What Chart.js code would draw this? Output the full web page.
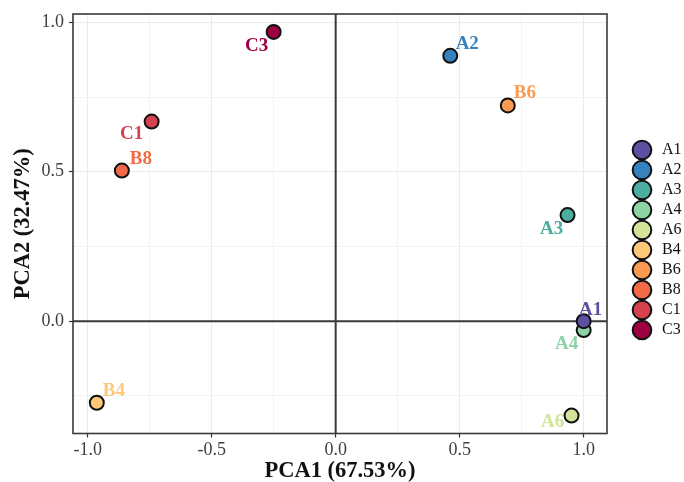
<!DOCTYPE html>
<html>
<head>
<meta charset="utf-8">
<script src="https://cdn.jsdelivr.net/npm/chart.js@4.4.1/dist/chart.umd.min.js"></script>
<style>
  html, body { margin: 0; padding: 0; background: #fff; }
  #wrap { width: 684px; height: 482px; }
</style>
</head>
<body>
<div id="wrap"><canvas id="pca"></canvas></div>
<script>
// Данные PCA
const samples = ['A1', 'A2', 'A3', 'A4', 'A6', 'B4', 'B6', 'B8', 'C1', 'C3'];
const pca1 = [1.000, 0.462, 0.935, 1.000, 0.951, -0.963, 0.694, -0.862, -0.742, -0.250];
const pca2 = [0.000, 0.888, 0.355, -0.030, -0.316, -0.273, 0.722, 0.504, 0.668, 0.968];
const colors = ['#5E4FA2', '#3682BE', '#4BAE9E', '#8DD3A4', '#D3E49A',
                '#FDC878', '#FA9A51', '#F26B46', '#D5414F', '#9E0142'];

// Деления осей
const majorX = [-1.0, -0.5, 0.0, 0.5, 1.0];
const minorX = [-0.75, -0.25, 0.25, 0.75];
const majorY = [0.0, 0.5, 1.0];
const minorY = [-0.25, 0.25, 0.75];

// Смещение подписей точек (px)
const labelShift = [[7, -11], [17, -12], [-16, 14], [-17, 14], [-19, 7],
                    [17, -12], [17, -12], [19, -11], [-20, 13], [-17, 14]];

const SERIF = "'Liberation Serif', 'Times New Roman', serif";
Chart.defaults.font.family = SERIF;

const isMajor = (list, v) => list.some(m => Math.abs(m - v) < 1e-9);
const isZero = v => v !== null && v !== undefined && Math.abs(v) < 1e-9;

function gridFor(major) {
  return {
    color: ctx => {
      const v = ctx.tick ? ctx.tick.value : null;
      if (isZero(v)) return 'rgba(0,0,0,0)';
      return isMajor(major, v) ? '#ebebeb' : '#f3f3f3';
    },
    lineWidth: 1,
    tickColor: ctx => isMajor(major, ctx.tick ? ctx.tick.value : null) ? '#333' : 'rgba(0,0,0,0)',
    tickLength: 4,
    tickWidth: 1.2
  };
}

// Линии x = 0 и y = 0 поверх сетки
const zeroLines = {
  id: 'zeroLines',
  beforeDatasetsDraw(chart) {
    const a = chart.chartArea;
    const ctx = chart.ctx;
    const x0 = chart.scales.x.getPixelForValue(0);
    const y0 = chart.scales.y.getPixelForValue(0);
    ctx.save();
    ctx.strokeStyle = '#3a3a3a';
    ctx.lineWidth = 2;
    ctx.beginPath();
    ctx.moveTo(x0, a.top);
    ctx.lineTo(x0, a.bottom);
    ctx.moveTo(a.left, y0);
    ctx.lineTo(a.right, y0);
    ctx.stroke();
    ctx.restore();
  }
};

// Рамка панели
const panelFrame = {
  id: 'panelFrame',
  afterDatasetsDraw(chart) {
    const a = chart.chartArea;
    const ctx = chart.ctx;
    ctx.save();
    ctx.strokeStyle = '#3a3a3a';
    ctx.lineWidth = 1.6;
    ctx.strokeRect(a.left, a.top, a.right - a.left, a.bottom - a.top);
    ctx.restore();
  }
};

// Подписи точек
const pointLabels = {
  id: 'pointLabels',
  afterDatasetsDraw(chart) {
    const ctx = chart.ctx;
    ctx.save();
    ctx.font = 'bold 19px ' + SERIF;
    ctx.textAlign = 'center';
    ctx.textBaseline = 'middle';
    chart.data.datasets.forEach((ds, i) => {
      const pt = chart.getDatasetMeta(i).data[0];
      ctx.fillStyle = colors[i];
      ctx.fillText(ds.label, pt.x + labelShift[i][0], pt.y + labelShift[i][1]);
    });
    ctx.restore();
  }
};

const datasets = samples.map((s, i) => ({
  label: s,
  data: [{ x: pca1[i], y: pca2[i] }],
  backgroundColor: colors[i],
  borderColor: '#111',
  pointRadius: 7,
  pointBorderWidth: 2,
  pointHoverRadius: 7
}));

new Chart(document.getElementById('pca'), {
  type: 'scatter',
  data: { datasets: datasets },
  options: {
    responsive: true,
    maintainAspectRatio: false,
    animation: false,
    layout: { padding: { top: 9, left: 0, right: 0, bottom: 0 } },
    plugins: {
      tooltip: { enabled: false },
      legend: {
        position: 'right',
        align: 'start',
        maxWidth: 54,
        title: {
          display: true,
          text: ' ',
          font: { size: 10, lineHeight: 1 },
          padding: { top: 119, bottom: 0 }
        },
        labels: {
          usePointStyle: true,
          pointStyle: 'circle',
          boxWidth: 16,
          boxHeight: 13.2,
          padding: 4,
          color: '#111',
          font: { size: 16, family: SERIF },
          generateLabels(chart) {
            const items = Chart.defaults.plugins.legend.labels.generateLabels(chart);
            items.forEach(it => { it.text = ' ' + it.text; });
            return items;
          }
        }
      }
    },
    scales: {
      x: {
        type: 'linear',
        min: -1.059,
        max: 1.094,
        afterBuildTicks: sc => {
          sc.ticks = majorX.concat(minorX).sort((a, b) => a - b).map(v => ({ value: v }));
        },
        ticks: {
          autoSkip: false,
          maxRotation: 0,
          padding: 4,
          color: '#404040',
          font: { size: 18, lineHeight: 1 },
          callback: v => isMajor(majorX, v) ? v.toFixed(1) : ''
        },
        grid: gridFor(majorX),
        border: { display: false },
        title: {
          display: true,
          text: 'PCA1 (67.53%)',
          color: '#111',
          font: { size: 22.5, weight: 'bold', lineHeight: 1 },
          padding: { top: -4, bottom: 0 }
        }
      },
      y: {
        type: 'linear',
        min: -0.376,
        max: 1.028,
        afterBuildTicks: sc => {
          sc.ticks = majorY.concat(minorY).sort((a, b) => a - b).map(v => ({ value: v }));
        },
        ticks: {
          autoSkip: false,
          padding: 5,
          color: '#404040',
          font: { size: 18, lineHeight: 1 },
          callback: v => isMajor(majorY, v) ? v.toFixed(1) : ''
        },
        grid: gridFor(majorY),
        border: { display: false },
        title: {
          display: true,
          text: 'PCA2 (32.47%)',
          color: '#111',
          font: { size: 22.5, weight: 'bold', lineHeight: 1 },
          padding: { top: 12, bottom: 2 }
        }
      },
      gap: {
        type: 'linear',
        position: 'right',
        display: true,
        afterFit: sc => { sc.width = 23; },
        ticks: { display: false },
        grid: { display: false, drawTicks: false },
        border: { display: false }
      }
    }
  },
  plugins: [zeroLines, panelFrame, pointLabels]
});
</script>
</body>
</html>
